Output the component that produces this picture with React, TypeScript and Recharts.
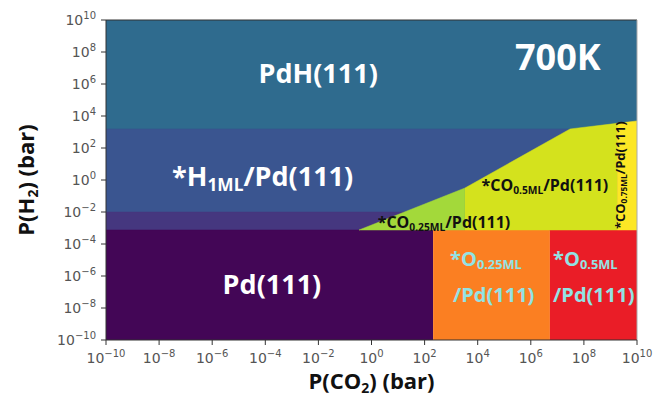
import React from 'react';
import { ComposedChart, Area, XAxis, YAxis, ReferenceLine, ReferenceDot } from 'recharts';

// log10 pressure ticks (bar)
const axisTicks = [-10, -8, -6, -4, -2, 0, 2, 4, 6, 8, 10];

// phase regions: x = log10 P(CO2), r = [low, high] log10 P(H2)
const pdhRegion = [{ x: -10, r: [3.19, 10] }, { x: 10, r: [3.19, 10] }];
const h1mlRegion = [{ x: -10, r: [-3.125, 3.19] }, { x: 10, r: [-3.125, 3.19] }];
const h1mlEdge = [{ x: -10, r: [-3.125, -2] }, { x: 10, r: [-3.125, -2] }];
const pdRegion = [{ x: -10, r: [-10, -3.125] }, { x: 2.32, r: [-10, -3.125] }];
const o025Region = [{ x: 2.32, r: [-10, -3.125] }, { x: 6.72, r: [-10, -3.125] }];
const o05Region = [{ x: 6.72, r: [-10, -3.125] }, { x: 10, r: [-10, -3.125] }];
const co025Region = [{ x: -0.47, r: [-3.125, -3.125] }, { x: 3.52, r: [-3.125, -0.5] }];
const co05Region = [
  { x: 3.52, r: [-3.125, -0.5] },
  { x: 7.48, r: [-3.125, 3.19] },
  { x: 9.25, r: [-3.125, 3.54] },
];
const co075Region = [{ x: 9.25, r: [-3.125, 3.54] }, { x: 10, r: [-3.125, 3.69] }];

const regions = [
  { key: 'pdh', data: pdhRegion, fill: '#2f6b8e' },
  { key: 'h1ml', data: h1mlRegion, fill: '#3a5590' },
  { key: 'h1mlEdge', data: h1mlEdge, fill: '#45377f' },
  { key: 'pd', data: pdRegion, fill: '#430656' },
  { key: 'o025', data: o025Region, fill: '#fb7f22' },
  { key: 'o05', data: o05Region, fill: '#ea1d27' },
  { key: 'co025', data: co025Region, fill: '#a3d93a' },
  { key: 'co05', data: co05Region, fill: '#d4e21d' },
  { key: 'co075', data: co075Region, fill: '#fde725' },
];

type Part = { t: string; sub?: boolean };
type Ann = {
  x: number; y: number; parts: Part[]; size: number; color: string;
  anchor?: 'start' | 'middle' | 'end'; rotate?: boolean;
};

const annotations: Ann[] = [
  { x: -2.01, y: 6.06, parts: [{ t: 'PdH(111)' }], size: 27, color: '#ffffff' },
  { x: 7.02, y: 6.9, parts: [{ t: '700K' }], size: 36, color: '#ffffff' },
  { x: -7.51, y: -0.4, parts: [{ t: '*H' }, { t: '1ML', sub: true }, { t: '/Pd(111)' }], size: 27, color: '#ffffff', anchor: 'start' },
  { x: 6.53, y: -0.7, parts: [{ t: '*CO' }, { t: '0.5ML', sub: true }, { t: '/Pd(111)' }], size: 16, color: '#111111' },
  { x: 2.73, y: -3.0, parts: [{ t: '*CO' }, { t: '0.25ML', sub: true }, { t: '/Pd(111)' }], size: 16, color: '#111111' },
  { x: 9.55, y: 0.3, parts: [{ t: '*CO' }, { t: '0.75ML', sub: true }, { t: '/Pd(111)' }], size: 13, color: '#111111', rotate: true },
  { x: -3.75, y: -7.1, parts: [{ t: 'Pd(111)' }], size: 27, color: '#ffffff' },
  { x: 2.96, y: -5.35, parts: [{ t: '*O' }, { t: '0.25ML', sub: true }], size: 20, color: '#92e3e4', anchor: 'start' },
  { x: 3.07, y: -7.6, parts: [{ t: '/Pd(111)' }], size: 20, color: '#92e3e4', anchor: 'start' },
  { x: 6.84, y: -5.35, parts: [{ t: '*O' }, { t: '0.5ML', sub: true }], size: 20, color: '#92e3e4', anchor: 'start' },
  { x: 6.84, y: -7.6, parts: [{ t: '/Pd(111)' }], size: 20, color: '#92e3e4', anchor: 'start' },
];

const FONT = '"Open Sans", "Noto Sans", sans-serif';

const rich = (parts: Part[], size: number) =>
  parts.map((p, i) => {
    const prevSub = i > 0 && parts[i - 1].sub;
    let dy = 0;
    if (p.sub) dy = size * 0.16;
    else if (prevSub) dy = -size * 0.16;
    return (
      <tspan key={i} dy={dy} fontSize={p.sub ? size * 0.64 : size}>
        {p.t}
      </tspan>
    );
  });

const makeLabel = (a: Ann) => (props: any) => {
  const vb = props.viewBox || {};
  const cx = (vb.x ?? 0) + (vb.width ?? 0) / 2;
  const cy = (vb.y ?? 0) + (vb.height ?? 0) / 2;
  return (
    <text
      x={cx}
      y={cy}
      dy={a.size * 0.36}
      textAnchor={a.anchor || 'middle'}
      fill={a.color}
      fontFamily={FONT}
      fontWeight={700}
      fontSize={a.size}
      transform={a.rotate ? `rotate(-90 ${cx} ${cy})` : undefined}
    >
      {rich(a.parts, a.size)}
    </text>
  );
};

const expText = (v: number) => (v < 0 ? '\u2212' + Math.abs(v) : String(v));

const XTick = (props: any) => {
  const { x, y, payload } = props;
  return (
    <text x={x} y={y + 16} textAnchor="middle" fill="#555" fontFamily="DejaVu Sans" fontSize={14}>
      <tspan>10</tspan>
      <tspan dy={-6} fontSize={10}>{expText(payload.value)}</tspan>
    </text>
  );
};

const YTick = (props: any) => {
  const { x, y, payload } = props;
  return (
    <text x={x - 3} y={y + 5} textAnchor="end" fill="#555" fontFamily="DejaVu Sans" fontSize={14}>
      <tspan>10</tspan>
      <tspan dy={-6} fontSize={10}>{expText(payload.value)}</tspan>
    </text>
  );
};

const XAxisLabel = (props: any) => {
  const vb = props.viewBox || {};
  const cx = vb.x + vb.width / 2;
  return (
    <text x={cx} y={389} textAnchor="middle" fill="#111" fontFamily={FONT} fontWeight={700} fontSize={22}>
      <tspan>P(CO</tspan>
      <tspan dy={4} fontSize={14}>2</tspan>
      <tspan dy={-4}>) (bar)</tspan>
    </text>
  );
};

const YAxisLabel = () => {
  const cx = 34;
  const cy = 180;
  return (
    <text x={cx} y={cy} textAnchor="middle" fill="#111" fontFamily={FONT} fontWeight={700} fontSize={22}
      transform={`rotate(-90 ${cx} ${cy})`}>
      <tspan>P(H</tspan>
      <tspan dy={4} fontSize={14}>2</tspan>
      <tspan dy={-4}>) (bar)</tspan>
    </text>
  );
};

export default function App() {
  return (
    <div style={{ position: 'absolute', left: 0, top: 0, width: 654, height: 396, background: '#fff' }}>
      <ComposedChart width={654} height={396} margin={{ top: 20, right: 17, bottom: 0, left: 0 }}>
        <XAxis
          dataKey="x"
          type="number"
          domain={[-10, 10]}
          ticks={axisTicks}
          allowDataOverflow
          height={56}
          tick={<XTick />}
          tickSize={5}
          tickLine={{ stroke: '#333' }}
          axisLine={{ stroke: '#333' }}
          interval={0}
          label={<XAxisLabel />}
        />
        <YAxis
          type="number"
          domain={[-10, 10]}
          ticks={axisTicks}
          allowDataOverflow
          width={106}
          tick={<YTick />}
          tickSize={5}
          tickLine={{ stroke: '#333' }}
          axisLine={{ stroke: '#333' }}
          interval={0}
          label={<YAxisLabel />}
        />
        {regions.map((r) => (
          <Area
            key={r.key}
            data={r.data}
            dataKey="r"
            type="linear"
            fill={r.fill}
            fillOpacity={1}
            stroke={r.fill}
            strokeWidth={0.5}
            dot={false}
            activeDot={false}
            isAnimationActive={false}
          />
        ))}
        <ReferenceLine y={10} stroke="#333" strokeWidth={1} />
        <ReferenceLine x={10} stroke="#aaa" strokeWidth={1} />
        {annotations.map((a, i) => (
          <ReferenceDot
            key={i}
            x={a.x}
            y={a.y}
            r={1}
            fill="none"
            stroke="none"
            label={makeLabel(a)}
          />
        ))}
      </ComposedChart>
    </div>
  );
}
